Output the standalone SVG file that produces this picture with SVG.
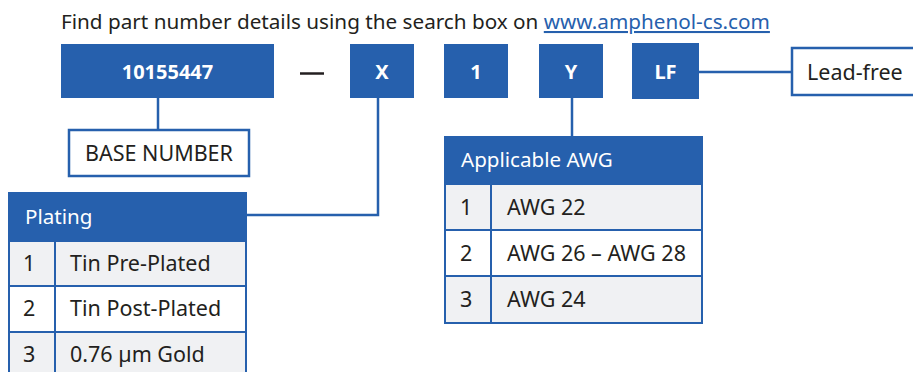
<svg xmlns="http://www.w3.org/2000/svg" width="913" height="372" viewBox="0 0 913 372">
<style>
text{font-family:"Noto Sans","Open Sans",sans-serif;fill:#231f20;font-size:21.5px}
.title{font-size:20.7px}
.code{fill:#2660ad}
.lbl{fill:#fff;font-weight:bold;font-size:20px;text-anchor:middle}
.box{fill:#fff;stroke:#2660ad;stroke-width:2.5}
.hdr{fill:#2660ad}
.hdrt{fill:#fff;font-size:20.6px}
.g{fill:#f0f1f3;stroke:#2660ad;stroke-width:2}
.w{fill:#fff;stroke:#2660ad;stroke-width:2}
.con{fill:none;stroke:#2660ad;stroke-width:2.5}
.link{fill:#2660ad;text-decoration:underline}
</style>
<rect width="913" height="372" fill="#fff"/>
<text class="title" x="61" y="29">Find part number details using the search box on <tspan class="link">www.amphenol-cs.com</tspan></text>
<g id="connectors">
<path class="con" d="M158 98V130"/>
<path class="con" d="M378 98V215H247"/>
<path class="con" d="M572 98V137"/>
<path class="con" d="M699 72H792"/>
</g>
<g id="base"><rect class="code" x="61" y="44" width="213" height="54"/><text class="lbl" x="167.5" y="79">10155447</text></g>
<g id="dash"><path d="M300 73.5H324" stroke="#231f20" stroke-width="2.5"/></g>
<g id="x"><rect class="code" x="350" y="44" width="64" height="54"/><text class="lbl" x="382" y="79">X</text></g>
<g id="one"><rect class="code" x="444" y="44" width="64" height="54"/><text class="lbl" x="476" y="79">1</text></g>
<g id="y"><rect class="code" x="539" y="44" width="64" height="54"/><text class="lbl" x="571" y="79">Y</text></g>
<g id="lf"><rect class="code" x="632" y="43" width="67" height="56"/><text class="lbl" x="665.5" y="79">LF</text></g>
<g id="leadfree"><rect class="box" x="792" y="48" width="125" height="47"/><text x="807" y="80">Lead-free</text></g>
<g id="basenumber"><rect class="box" x="69" y="130" width="180" height="46"/><text x="159" y="161" text-anchor="middle">BASE NUMBER</text></g>
<g id="plating">
<rect class="hdr" x="8" y="192" width="239" height="49"/>
<text class="hdrt" x="25" y="224">Plating</text>
<rect class="g" x="9" y="241" width="46" height="45"/><rect class="g" x="55" y="241" width="191" height="45"/>
<rect class="w" x="9" y="286" width="46" height="46"/><rect class="w" x="55" y="286" width="191" height="46"/>
<rect class="g" x="9" y="332" width="46" height="45"/><rect class="g" x="55" y="332" width="191" height="45"/>
<text x="23" y="271">1</text><text x="70" y="271">Tin Pre-Plated</text>
<text x="23" y="316">2</text><text x="70" y="316">Tin Post-Plated</text>
<text x="23" y="362">3</text><text x="70" y="362">0.76 µm Gold</text>
</g>
<g id="awg">
<rect class="hdr" x="444" y="136" width="259" height="48"/>
<text class="hdrt" x="461" y="167">Applicable AWG</text>
<rect class="g" x="445" y="184" width="46" height="46"/><rect class="g" x="491" y="184" width="211" height="46"/>
<rect class="w" x="445" y="230" width="46" height="46"/><rect class="w" x="491" y="230" width="211" height="46"/>
<rect class="g" x="445" y="276" width="46" height="47"/><rect class="g" x="491" y="276" width="211" height="47"/>
<text x="460" y="215">1</text><text x="507" y="215">AWG 22</text>
<text x="460" y="261">2</text><text x="507" y="261">AWG 26 – AWG 28</text>
<text x="460" y="307">3</text><text x="507" y="307">AWG 24</text>
</g>
</svg>
